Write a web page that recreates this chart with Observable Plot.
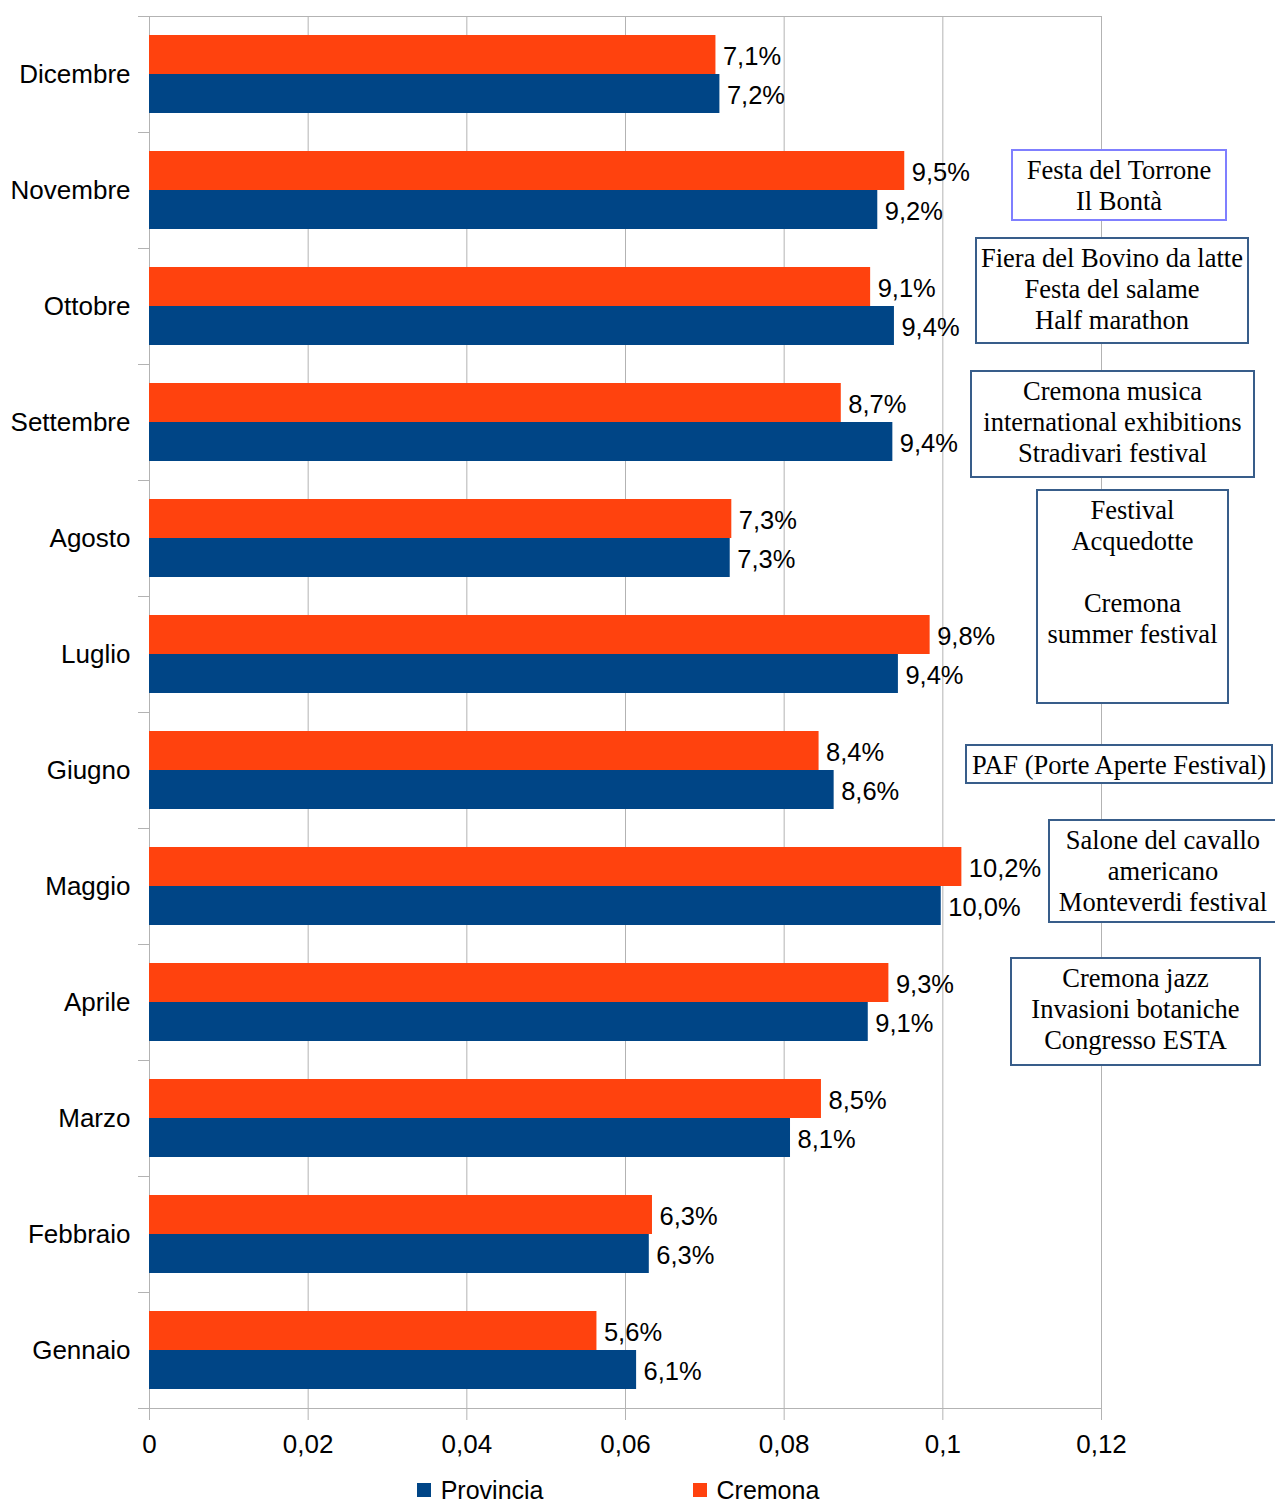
<!DOCTYPE html>
<html><head><meta charset="utf-8">
<script src="https://cdn.jsdelivr.net/npm/d3@7"></script>
<script src="https://cdn.jsdelivr.net/npm/@observablehq/plot@0.6"></script>
<style>
body{margin:0;background:#fff;}
#chart{position:relative;width:1275px;}
#chart svg text{font-family:"Liberation Sans",Arial,sans-serif;font-size:26px;fill:#000;}
#chart svg text.val{font-size:25.5px;}
#legend{display:flex;justify-content:center;align-items:center;gap:149px;padding-right:39px;height:40px;width:1236px;font-family:"Liberation Sans",Arial,sans-serif;font-size:25px;color:#000;}
#legend .sw{display:inline-block;width:14px;height:14px;margin-right:10px;vertical-align:middle;position:relative;top:-2px;}
</style></head><body>
<div id="chart"></div>
<div id="legend"></div>
<script>
// ---- data ----
const months = ["Dicembre","Novembre","Ottobre","Settembre","Agosto","Luglio","Giugno","Maggio","Aprile","Marzo","Febbraio","Gennaio"];
const cremona   = [0.0714,0.0952,0.0909,0.0872,0.0734,0.0984,0.0844,0.1024,0.0932,0.0847,0.0634,0.0564];
const provincia = [0.0719,0.0918,0.0939,0.0937,0.0732,0.0944,0.0863,0.0998,0.0906,0.0808,0.0630,0.0614];
const xTicks = [0,0.02,0.04,0.06,0.08,0.1,0.12];
const seriesNames = ["Cremona","Provincia"];
const legendNames = ["Provincia","Cremona"];
const seriesColors = {"Cremona":"#ff420e","Provincia":"#004586"};
const annotMonths = ["Novembre","Ottobre","Settembre","Luglio","Giugno","Maggio","Aprile"];
const annotLines = [
  ["Festa del Torrone","Il Bontà"],
  ["Fiera del Bovino da latte","Festa del salame","Half marathon"],
  ["Cremona musica","international exhibitions","Stradivari festival"],
  ["Festival","Acquedotte","","Cremona","summer festival"],
  ["PAF (Porte Aperte Festival)"],
  ["Salone del cavallo","americano","Monteverdi festival"],
  ["Cremona jazz","Invasioni botaniche","Congresso ESTA"]
];
// ---- annotation box layout (style, not data) ----
const annotLayout = [
  {dx:18, dy:-5, w:214, h:70, stroke:"#7f7fff"},
  {dx:11, dy:-15.5, w:272, h:105, stroke:"#385d8a"},
  {dx:11.5, dy:2, w:283, h:106, stroke:"#385d8a"},
  {dx:31.5, dy:-57.5, w:191, h:213, stroke:"#385d8a"},
  {dx:18, dy:-6, w:306, h:38, stroke:"#385d8a"},
  {dx:62, dy:-15, w:228, h:102, stroke:"#385d8a"},
  {dx:34.5, dy:9.5, w:249, h:107, stroke:"#385d8a"}
];

const rows = months.flatMap((m,i)=>[
  {month:m, series:"Cremona", value:cremona[i]},
  {month:m, series:"Provincia", value:provincia[i]}
]);
const fmtPct = v => d3.format(".1%")(v).replace(".",",");
const fmtTick = v => String(v).replace(".",",");

const chart = Plot.plot({
  width:1275, height:1470,
  marginLeft:149, marginRight:174, marginTop:16, marginBottom:62,
  style:{fontFamily:"Liberation Sans, Arial, sans-serif", fontSize:"26px", color:"#b3b3b3", background:"#fff", overflow:"visible"},
  facet:{data:rows, y:"month"},
  fy:{domain:months, padding:0, label:null, axis:"left", tickSize:0, tickPadding:19},
  y:{domain:seriesNames, paddingInner:0, paddingOuter:0.487, axis:null},
  x:{domain:[0,0.12], ticks:xTicks, tickFormat:fmtTick, tickSize:12, tickPadding:14, label:null},
  color:{domain:seriesNames, range:seriesNames.map(s=>seriesColors[s])},
  marks:[
    Plot.ruleX(xTicks,{stroke:"#b3b3b3", strokeWidth:1}),
    Plot.barX(rows,{x:"value", y:"series", fill:"series", inset:0}),
    Plot.text(rows,{x:"value", y:"series", text:d=>fmtPct(d.value), dx:7, dy:2, textAnchor:"start", fill:"#000", fontSize:25.5})
  ]
});
document.getElementById("chart").append(chart);

// ---- axis decorations from Plot scales ----
const xs = chart.scale("x"), fys = chart.scale("fy");
const bw = fys.bandwidth;
const svg = d3.select(chart);
svg.selectAll("text").filter(function(){ return /%$/.test(this.textContent); }).classed("val", true);
const deco = svg.append("g").attr("stroke","#b3b3b3").attr("stroke-width",1);
const x0 = xs.apply(0), x12 = xs.apply(0.12);
const bounds = months.map(m=>fys.apply(m)).concat([fys.apply(months[months.length-1])+bw]);
bounds.forEach((b,i)=>{
  const full = (i===0 || i===bounds.length-1);
  deco.append("line").attr("x1",x0-11).attr("x2",full?x12:x0)
    .attr("y1",Math.round(b)+0.5).attr("y2",Math.round(b)+0.5);
});

// ---- annotations ----
const ann = svg.append("g");
annotMonths.forEach((m,i)=>{
  const L = annotLayout[i];
  const cx = x12 + L.dx;
  const cy = fys.apply(m) + bw/2 + L.dy;
  const top = cy - L.h/2;
  ann.append("rect").attr("x",cx-L.w/2).attr("y",top).attr("width",L.w).attr("height",L.h)
    .attr("fill","#fff").attr("stroke",L.stroke).attr("stroke-width",2);
  const t = ann.append("text").attr("text-anchor","middle")
    .style("font-family","'Liberation Serif','Times New Roman',serif").style("font-size","26.5px").style("fill","#000");
  annotLines[i].forEach((line,j)=>{
    t.append("tspan").attr("x",cx).attr("y",top+19.5+j*31).attr("dy","0.35em").text(line);
  });
});

// ---- legend ----
const leg = d3.select("#legend");
legendNames.forEach(n=>{
  const it = leg.append("span");
  it.append("span").attr("class","sw").style("background",seriesColors[n]);
  it.append("span").text(n);
});
</script>
</body></html>
